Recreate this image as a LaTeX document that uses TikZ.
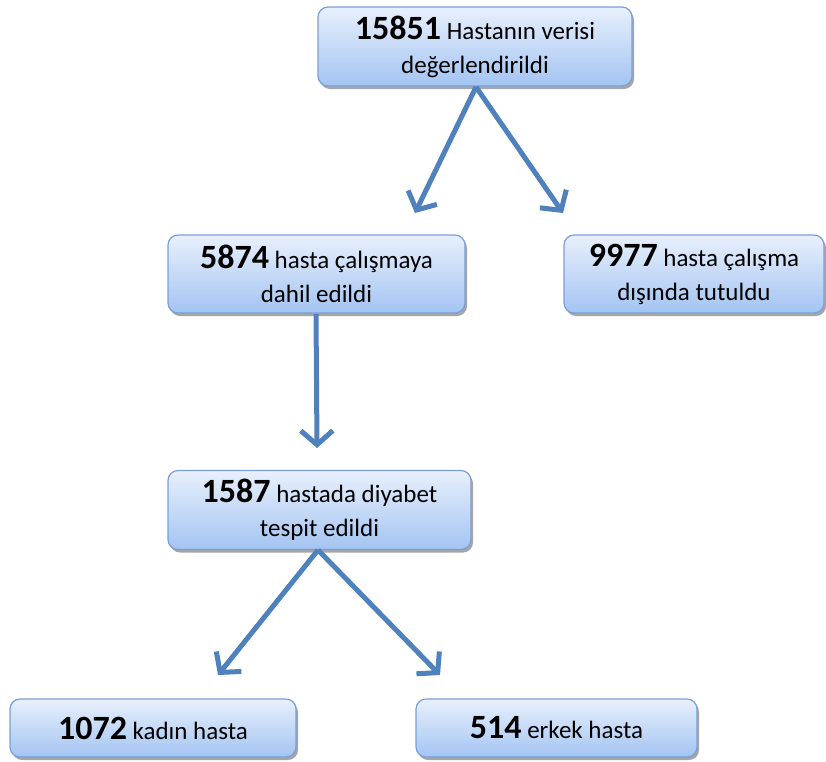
\documentclass[tikz,border=0pt]{standalone}
\usepackage{fontspec}
\setmainfont{Carlito}
\usetikzlibrary{arrows.meta,shadows}
\definecolor{boxtop}{HTML}{E8F0FC}
\definecolor{boxbot}{HTML}{A3C4F2}
\definecolor{boxline}{HTML}{7A9FD6}
\definecolor{arrowc}{HTML}{4F81BD}
\tikzset{
  flowbox/.style={draw=boxline, line width=1.2pt, rounded corners=10pt,
    top color=boxtop, bottom color=boxbot, align=center,
    inner sep=0pt, font=\fontsize{25}{34}\selectfont,
    drop shadow={shadow xshift=2pt, shadow yshift=-3pt, opacity=0.35, fill=black}},
  flowarrow/.style={draw=arrowc, line width=5pt,
    -{Straight Barb[length=14pt, width=32pt, line width=5pt]}}
}
\newcommand{\nm}[1]{{\fontsize{34}{34}\selectfont\bfseries #1}}
\begin{document}
\begin{tikzpicture}[x=1pt, y=-1pt]
\useasboundingbox (0,0) rectangle (826,761);
\node[flowbox, minimum width=314pt, minimum height=79pt] (a) at (475,46.5) {\nm{15851} Hastanın verisi\\değerlendirildi};
\node[flowbox, minimum width=297pt, minimum height=78pt] (b) at (316.5,274) {\nm{5874} hasta çalışmaya\\dahil edildi};
\node[flowbox, minimum width=260pt, minimum height=78pt] (c) at (694,274) {\nm{9977} hasta çalışma\\dışında tutuldu};
\node[flowbox, minimum width=303pt, minimum height=79pt] (d) at (319.5,510) {\nm{1587} hastada diyabet\\tespit edildi};
\node[flowbox, minimum width=286pt, minimum height=58pt] (e) at (153,728) {\nm{1072} kadın hasta};
\node[flowbox, minimum width=281pt, minimum height=58pt] (f) at (556.5,728) {\nm{514} erkek hasta};
\coordinate (ta) at (476,87);
\coordinate (tb) at (316,314);
\coordinate (td) at (318,550);
\coordinate (b1) at (415,213);
\coordinate (c1) at (563,213);
\coordinate (d1) at (317,448);
\coordinate (e1) at (218,675);
\coordinate (f1) at (440,675);
\draw[flowarrow] (ta) -- (b1);
\draw[flowarrow] (ta) -- (c1);
\draw[flowarrow] (tb) -- (d1);
\draw[flowarrow] (td) -- (e1);
\draw[flowarrow] (td) -- (f1);
\end{tikzpicture}
\end{document}
